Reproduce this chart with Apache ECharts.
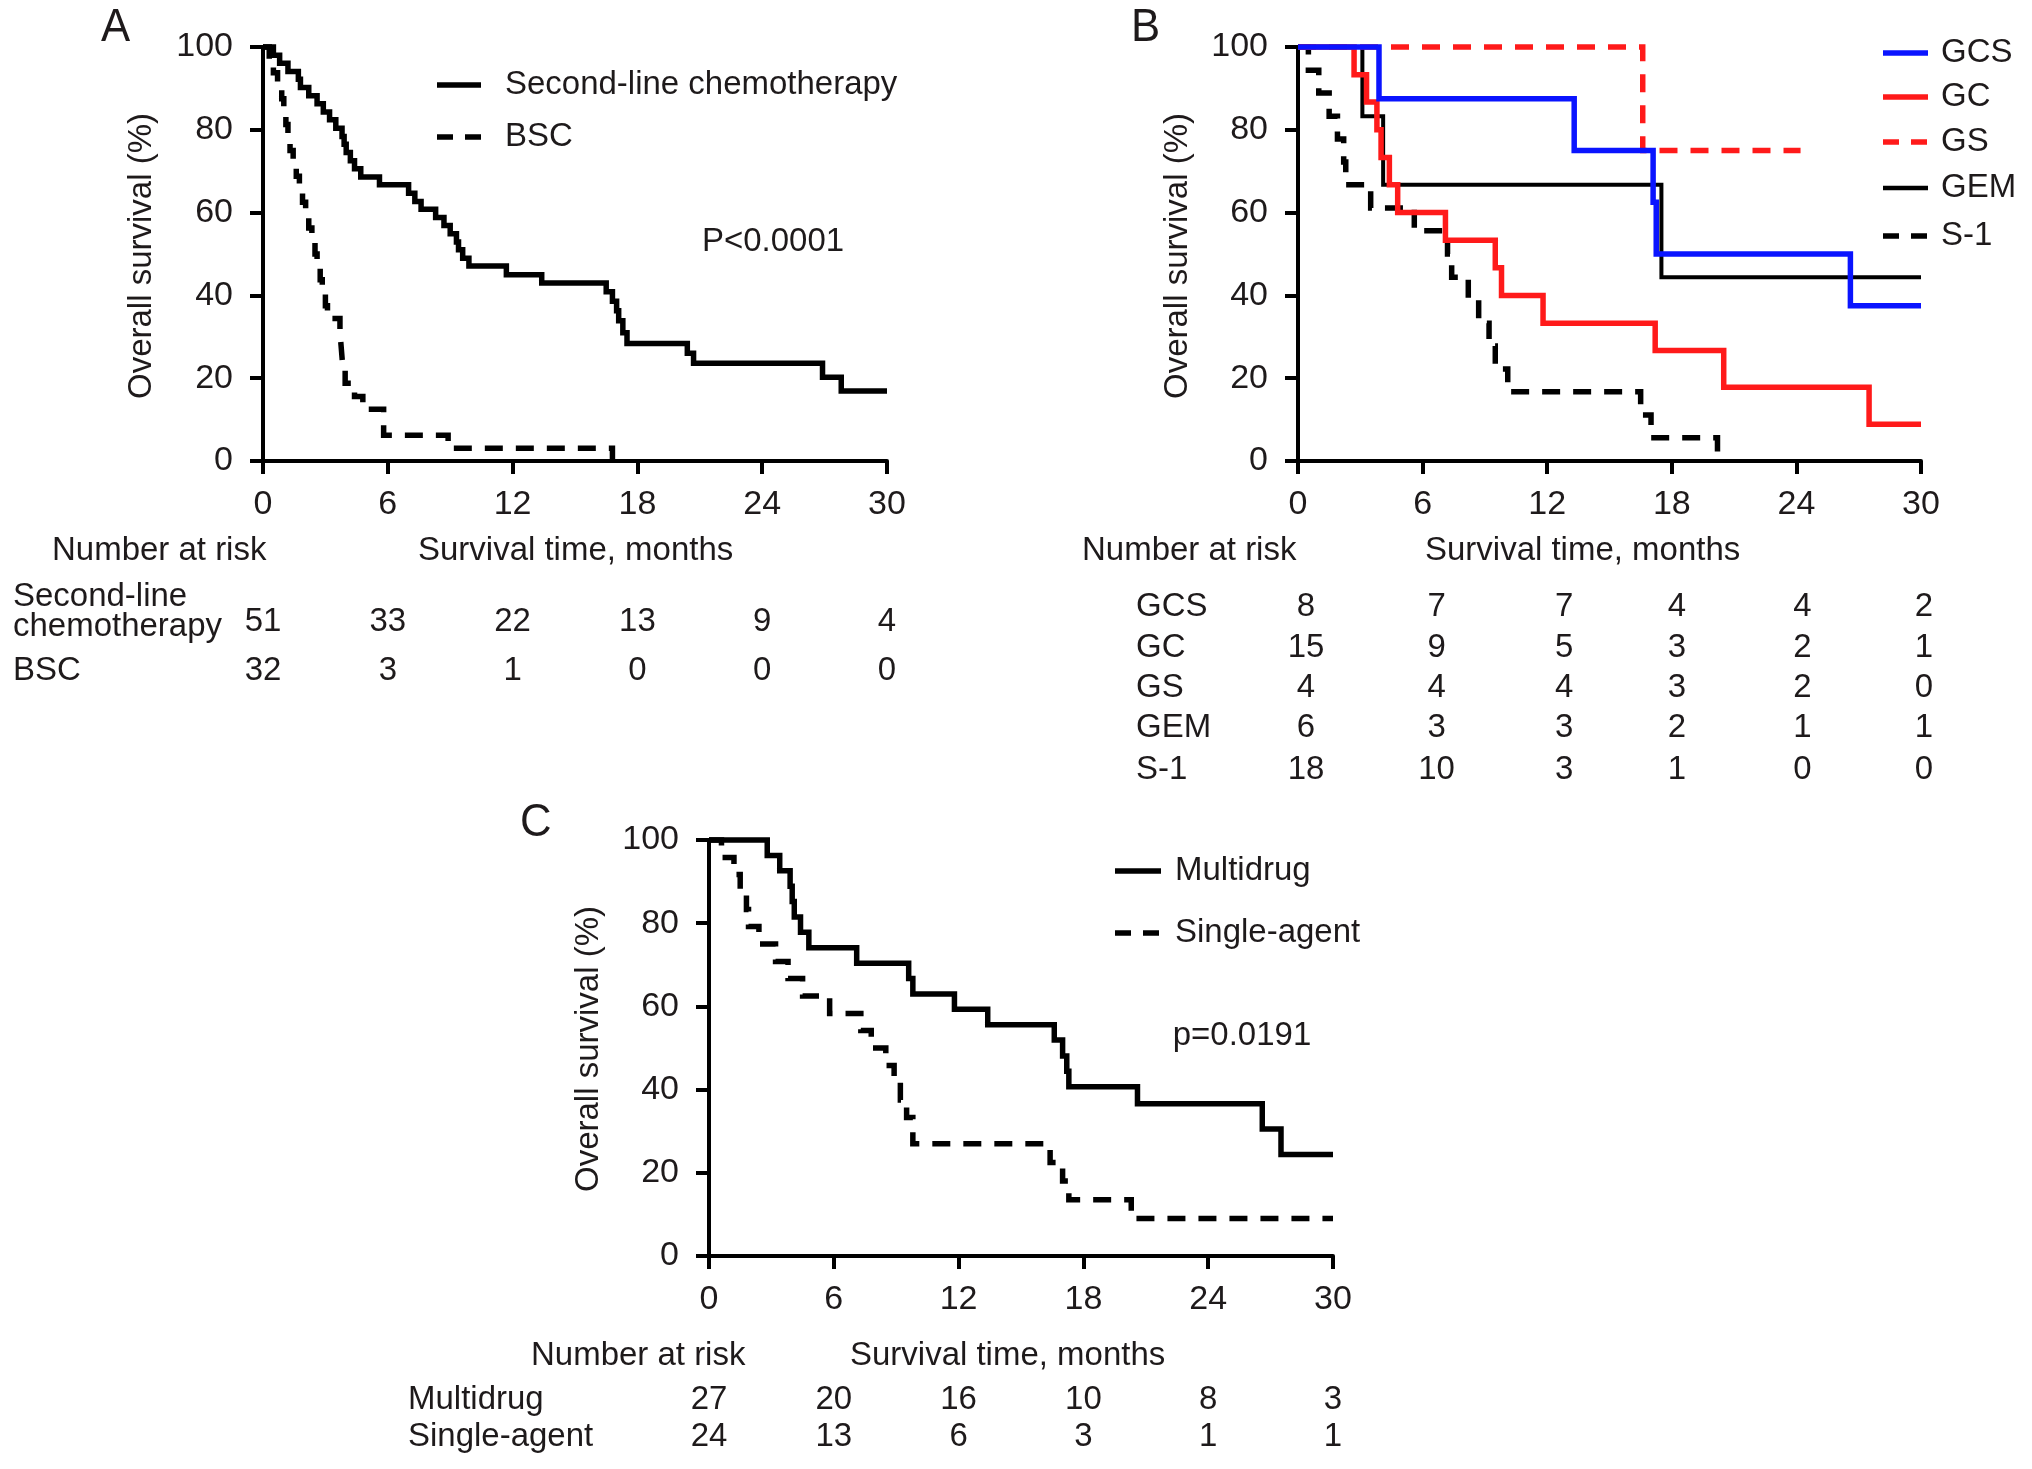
<!DOCTYPE html>
<html><head><meta charset="utf-8">
<script src="https://cdn.jsdelivr.net/npm/echarts/dist/echarts.min.js"></script>
<style>html,body{margin:0;padding:0;background:#fff}#c{width:2032px;height:1469px}</style>
</head><body><div id="c"></div>
<script>
// ---------- data ----------
const xTicks = [0, 6, 12, 18, 24, 30];
const yTicks = [0, 20, 40, 60, 80, 100];

// Panel A
const secondLine = [[0,100],[0.5,98.0],[0.8,96.1],[1.2,94.1],[1.7,92.2],[1.8,90.2],[2.2,88.2],[2.6,86.3],[2.9,84.3],[3.2,82.4],[3.5,80.4],[3.8,78.4],[3.9,76.5],[4.0,74.5],[4.2,72.5],[4.4,70.6],[4.7,68.6],[5.6,66.7],[7.0,64.7],[7.3,62.7],[7.6,60.8],[8.3,58.8],[8.7,56.9],[9.0,54.9],[9.3,52.9],[9.4,51.0],[9.6,49.0],[9.9,47.1],[11.7,45.0],[13.4,43.0],[16.5,40.9],[16.8,38.6],[17.0,36.3],[17.1,33.9],[17.3,31.0],[17.5,28.4],[20.4,26.0],[20.7,23.6],[26.9,20.2],[27.8,16.9],[30,16.9]];
const bsc = [[0,100],[0.3,96.9],[0.5,93.8],[0.7,90.6],[0.9,87.5],[1.0,84.4],[1.1,81.3],[1.2,78.1],[1.3,75.0],[1.45,71.9],[1.6,68.8],[1.75,65.6],[1.9,62.5],[2.05,59.4],[2.2,56.3],[2.35,53.1],[2.5,50.0],[2.6,46.9],[2.75,43.8],[2.85,40.6],[3.0,37.5],[3.1,34.4],[3.7,31.3],[3.75,28.1],[3.8,25.0],[3.85,21.9],[3.95,18.8],[4.4,15.6],[4.8,12.5],[5.8,6.25],[8.9,3.1],[16.8,0]];
const riskSecondLine = [51, 33, 22, 13, 9, 4];
const riskBSC = [32, 3, 1, 0, 0, 0];

// Panel B
const gcs = [[0,100],[3.9,87.5],[13.3,75],[17.1,62.5],[17.25,50],[26.6,37.5],[30,37.5]];
const gc = [[0,100],[2.7,93.3],[3.3,86.7],[3.8,80],[4.0,73.3],[4.4,66.7],[4.8,60],[7.1,53.3],[9.5,46.7],[9.8,40],[11.8,33.3],[17.2,26.7],[20.5,17.8],[27.5,8.9],[30,8.9]];
const gs = [[0,100],[16.6,75],[24.2,75]];
const gem = [[0,100],[3.1,83.3],[4.1,66.7],[17.5,44.4],[30,44.4]];
const s1 = [[0,100],[0.5,94.4],[1.0,88.9],[1.5,83.3],[1.9,77.8],[2.2,72.2],[2.3,66.7],[3.5,61.1],[5.6,55.6],[7.2,50],[7.4,44.4],[8.2,38.9],[8.7,33.3],[9.2,27.8],[9.5,22.2],[10.1,16.7],[16.5,11.1],[17.0,5.6],[20.2,0]];
const riskGCS = [8, 7, 7, 4, 4, 2];
const riskGC = [15, 9, 5, 3, 2, 1];
const riskGS = [4, 4, 4, 3, 2, 0];
const riskGEM = [6, 3, 3, 2, 1, 1];
const riskS1 = [18, 10, 3, 1, 0, 0];

// Panel C
const multidrug = [[0,100],[2.8,96.3],[3.4,92.6],[3.9,88.9],[4.0,85.2],[4.1,81.5],[4.4,77.8],[4.8,74.1],[7.1,70.4],[9.6,66.7],[9.8,63.0],[11.8,59.3],[13.4,55.6],[16.6,51.9],[17.0,48.1],[17.2,44.4],[17.3,40.7],[20.6,36.6],[26.6,30.5],[27.5,24.4],[30,24.4]];
const singleAgent = [[0,100],[0.6,95.8],[1.2,91.7],[1.5,87.5],[1.8,83.3],[1.9,79.2],[2.4,75],[3.2,70.8],[3.8,66.7],[4.5,62.5],[5.8,58.3],[7.3,54.2],[7.8,50],[8.5,45.8],[8.9,41.7],[9.2,37.5],[9.5,33.3],[9.8,27.0],[16.4,22.5],[17.0,18.0],[17.3,13.5],[20.3,9.0],[30,9.0]];
const riskMultidrug = [27, 20, 16, 10, 8, 3];
const riskSingleAgent = [24, 13, 6, 3, 1, 1];

// ---------- chart ----------
const FONT = '"Liberation Sans", Arial, Helvetica, sans-serif';
const TXT = '#1e1a1b';
const BLUE = '#0a14ff', RED = '#ff1a1a', BLACK = '#000000';
const chart = echarts.init(document.getElementById('c'));

const grids = [
  {left: 263, top: 47, width: 624, height: 414},
  {left: 1298, top: 47, width: 623, height: 414},
  {left: 709, top: 840, width: 624, height: 416}
];

function xAx(i) {
  return {type: 'value', gridIndex: i, min: xTicks[0], max: xTicks[xTicks.length-1], interval: xTicks[1]-xTicks[0],
    axisLine: {show: true, onZero: false, lineStyle: {color: '#000', width: 4}},
    axisTick: {show: true, length: 13, lineStyle: {color: '#000', width: 4}},
    axisLabel: {fontSize: 34, color: TXT, margin: 27, fontFamily: FONT},
    splitLine: {show: false}};
}
function yAx(i) {
  return {type: 'value', gridIndex: i, min: yTicks[0], max: yTicks[yTicks.length-1], interval: yTicks[1]-yTicks[0],
    axisLine: {show: true, onZero: false, lineStyle: {color: '#000', width: 4}},
    axisTick: {show: true, length: 13, lineStyle: {color: '#000', width: 4}},
    axisLabel: {fontSize: 34, color: TXT, margin: 30, fontFamily: FONT},
    splitLine: {show: false}};
}
function km(name, data, gi, color, width, dashed, z) {
  return {type: 'line', name: name, xAxisIndex: gi, yAxisIndex: gi, data: data, step: 'end',
    showSymbol: false, symbol: 'none', clip: false, animation: false, z: z || 2,
    lineStyle: {color: color, width: width, type: dashed ? [18, 13] : 'solid', cap: 'butt', join: 'miter'}};
}

chart.setOption({
  animation: false,
  backgroundColor: '#fff',
  grid: grids,
  xAxis: [xAx(0), xAx(1), xAx(2)],
  yAxis: [yAx(0), yAx(1), yAx(2)],
  series: [
    km('Second-line chemotherapy', secondLine, 0, BLACK, 5.5, false, 3),
    km('BSC', bsc, 0, BLACK, 5.5, true, 2),
    km('GEM', gem, 1, BLACK, 4, false, 2),
    km('S-1', s1, 1, BLACK, 5.5, true, 2),
    km('GC', gc, 1, RED, 5.5, false, 3),
    km('GS', gs, 1, RED, 5.5, true, 3),
    km('GCS', gcs, 1, BLUE, 5.5, false, 4),
    km('Multidrug', multidrug, 2, BLACK, 5.5, false, 3),
    km('Single-agent', singleAgent, 2, BLACK, 5.5, true, 2)
  ]
});

// ---------- text & legends ----------
const g = [];
function txt(s, x, y, opt) {
  opt = opt || {};
  g.push({type: 'text', x: x, y: y, rotation: opt.rot || 0, scaleX: opt.sx || 0.97,
    style: {text: s, fontSize: opt.fs || 34, fontFamily: FONT, fill: TXT,
      align: opt.align || 'left', verticalAlign: 'middle'}});
}
function legLine(x1, x2, y, color, dashed, w) {
  g.push({type: 'line', shape: {x1: x1, y1: y, x2: x2, y2: y},
    style: {stroke: color, lineWidth: w || 5.5, lineDash: dashed ? [16, 12] : null}});
}
function riskRow(values, gi, y, offsets) {
  values.forEach(function (v, k) {
    const px = chart.convertToPixel({xAxisIndex: gi}, xTicks[k]) + (offsets ? offsets[k] : 0);
    txt(String(v), px, y, {align: 'center'});
  });
}

// Panel A
txt('A', 101, 28, {fs: 46, sx: 0.95});
txt('Overall survival (%)', 142, 256, {rot: Math.PI / 2, align: 'center'});
legLine(437, 481, 85, BLACK, false);
txt('Second-line chemotherapy', 505, 85);
legLine(437, 481, 137, BLACK, true);
txt('BSC', 505, 137);
txt('P<0.0001', 773, 242, {align: 'center'});
txt('Number at risk', 52, 551);
txt('Survival time, months', 418, 551);
txt('Second-line', 13, 597);
txt('chemotherapy', 13, 627);
riskRow(riskSecondLine, 0, 622);
txt('BSC', 13, 671);
riskRow(riskBSC, 0, 671);

// Panel B
txt('B', 1131, 28, {fs: 46, sx: 0.95});
txt('Overall survival (%)', 1178, 256, {rot: Math.PI / 2, align: 'center'});
const legB = [['GCS', BLUE, false, 53], ['GC', RED, false, 97], ['GS', RED, true, 142], ['GEM', BLACK, false, 188], ['S-1', BLACK, true, 236]];
legB.forEach(function (l) { legLine(1883, 1928, l[3], l[1], l[2], l[0] === 'GEM' ? 4.5 : 5.5); txt(l[0], 1941, l[3]); });
txt('Number at risk', 1082, 551);
txt('Survival time, months', 1425, 551);
const offB = [8, 14, 17, 5, 6, 3];
const rowsB = [['GCS', riskGCS, 607], ['GC', riskGC, 648], ['GS', riskGS, 688], ['GEM', riskGEM, 728], ['S-1', riskS1, 770]];
rowsB.forEach(function (r) { txt(r[0], 1136, r[2]); riskRow(r[1], 1, r[2], offB); });

// Panel C
txt('C', 520, 823, {fs: 46, sx: 0.95});
txt('Overall survival (%)', 589, 1049, {rot: Math.PI / 2, align: 'center'});
legLine(1115, 1161, 871, BLACK, false);
txt('Multidrug', 1175, 871);
legLine(1115, 1161, 933, BLACK, true);
txt('Single-agent', 1175, 933);
txt('p=0.0191', 1242, 1036, {align: 'center'});
txt('Number at risk', 531, 1356);
txt('Survival time, months', 850, 1356);
txt('Multidrug', 408, 1400);
riskRow(riskMultidrug, 2, 1400);
txt('Single-agent', 408, 1437);
riskRow(riskSingleAgent, 2, 1437);

chart.setOption({graphic: g});
</script>
</body></html>
